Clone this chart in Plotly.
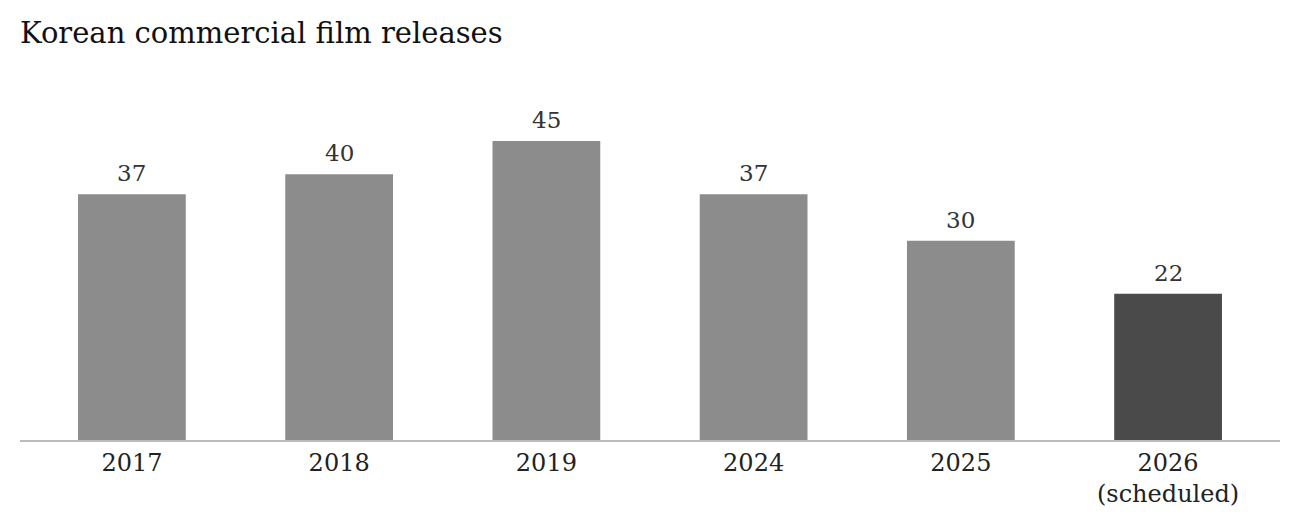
import plotly.graph_objects as go

# Data
years = ["2017", "2018", "2019", "2024", "2025", "2026<br>(scheduled)"]
releases = [37, 40, 45, 37, 30, 22]
bar_colors = ["#8c8c8c", "#8c8c8c", "#8c8c8c", "#8c8c8c", "#8c8c8c", "#4a4a4a"]

font_name = "DejaVu Serif"

fig = go.Figure()

fig.add_trace(go.Bar(
    x=years,
    y=releases,
    marker=dict(color=bar_colors, line=dict(width=0)),
    width=0.52,
    hoverinfo="x+y",
))

# value labels above the bars (category index, since "2017" would be read as a number)
for i, val in enumerate(releases):
    fig.add_annotation(
        x=i, y=val, text=str(val),
        showarrow=False, yanchor="bottom", yshift=6,
        font=dict(family=font_name, size=23, color="#333333"),
    )

# page body has an 8px margin, so the figure is made a bit smaller
fig.update_layout(
    title=dict(
        text="Korean commercial film releases",
        x=0, xref="paper", xanchor="left",
        y=1 - 25 / 512, yref="container", yanchor="middle",
        font=dict(family=font_name, size=29, color="#111111"),
    ),
    width=1292,
    height=512,
    margin=dict(l=12, r=20, t=72, b=80),
    plot_bgcolor="white",
    paper_bgcolor="white",
    showlegend=False,
    xaxis=dict(
        type="category",
        range=[-0.54, 5.54],
        showgrid=False,
        showline=True,
        linecolor="#bbbbbb",
        linewidth=2,
        ticks="",
        tickfont=dict(family=font_name, size=24, color="#222222"),
    ),
    yaxis=dict(
        range=[0, 54.2],
        visible=False,
        showgrid=False,
        zeroline=False,
    ),
)

fig.write_html("out.html")
